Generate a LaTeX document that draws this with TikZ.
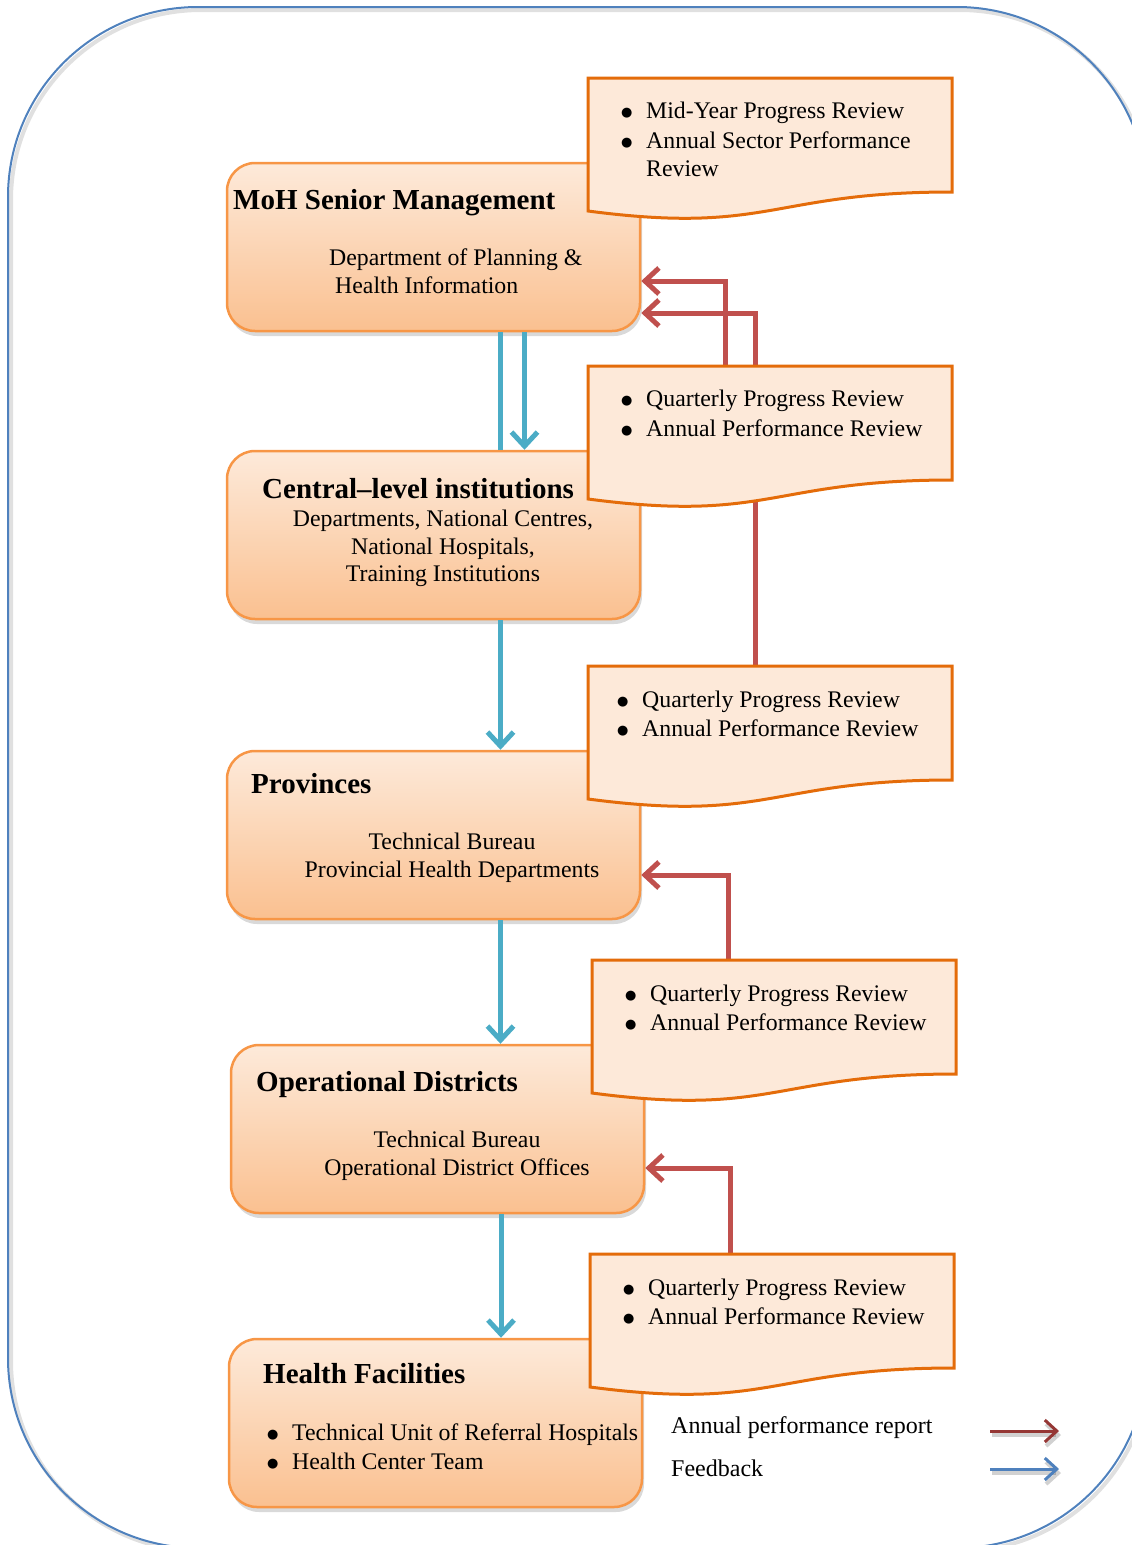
\documentclass[tikz,border=0pt]{standalone}
\usepackage{fontspec}
\setmainfont{Liberation Serif}
\newfontfamily\symfont{DejaVu Sans}
\usetikzlibrary{arrows.meta,shadows,calc}
\definecolor{boxtop}{HTML}{FDEADA}
\definecolor{boxbot}{HTML}{FAC090}
\definecolor{boxline}{HTML}{F79646}
\definecolor{docfill}{HTML}{FDE9D9}
\definecolor{docline}{HTML}{E46C0A}
\definecolor{fbblue}{HTML}{4BACC6}
\definecolor{repred}{HTML}{C0504D}
\definecolor{legred}{HTML}{953735}
\definecolor{legblue}{HTML}{4F81BD}
\definecolor{framecol}{HTML}{4F81BD}
\newcommand\bodyfont{\fontsize{23.8}{29}\selectfont}
\newcommand\titlefont{\fontsize{29}{34}\selectfont\bfseries}
\newcommand\bul{\llap{\raisebox{2pt}{\symfont\fontsize{13}{13}\selectfont ●}\hspace{13.8pt}}}
\newcommand\mydoc[3]{%
  \draw[docshape] (#1,#2) -- (#3,#2) -- (#3,#2+114)
    .. controls ({(#1+#3)/2},#2+114) and ({(#1+#3)/2},#2+157) .. (#1,#2+133) -- cycle;}
\begin{document}
\begin{tikzpicture}[x=1pt,y=-1pt,
  mainbox/.style={draw=boxline, line width=2.5pt, rounded corners=28pt,
    top color=boxtop, bottom color=boxbot, minimum width=413pt, minimum height=168pt,
    inner sep=0pt, drop shadow={shadow xshift=2pt, shadow yshift=-5pt, opacity=0.3}},
  docshape/.style={draw=docline, fill=docfill, line width=3pt, line join=miter},
  doctop/.style={inner sep=0pt, minimum width=364pt, minimum height=114pt, anchor=north west},
  txt/.style={anchor=base west, inner sep=0pt, font=\bodyfont},
  ctxt/.style={anchor=base, inner sep=0pt, font=\bodyfont},
  ttl/.style={anchor=base west, inner sep=0pt, font=\titlefont},
  fbline/.style={draw=fbblue, line width=5pt},
  downarrow/.style={fbline, -{Straight Barb[length=14pt,width=26pt]}},
  uparrow/.style={draw=repred, line width=5pt, line join=miter, -{Straight Barb[length=14pt,width=26pt]}},
  legarrow/.style={line width=3pt, -{Straight Barb[length=12pt,width=22pt]}},
  legshadow/.style={draw=black, opacity=0.18, line width=4pt, -{Straight Barb[length=12pt,width=22pt]}},
]
\useasboundingbox (0,0) rectangle (1132,1545);
\clip (0,0) rectangle (1132,1545);

% outer frame
\draw[black, opacity=0.12, line width=4pt, rounded corners=190pt] (11,10) rectangle (1150,1551);
\draw[framecol, line width=2pt, rounded corners=190pt] (8,7) rectangle (1147,1548);

% main boxes
\node[mainbox] (moh) at (433.5,247) {};
\node[mainbox] (cen) at (433.5,535) {};
\node[mainbox] (prov) at (433.5,835) {};
\node[mainbox] (od) at (437.5,1129) {};
\node[mainbox] (hf) at (435.5,1423) {};

% main box texts
\node[ttl] (mohT) at (233,209) {MoH Senior Management};
\node[txt] (mohA) at (329,265) {Department of Planning \&};
\node[txt] (mohB) at (335,293) {Health Information};

\node[ttl] (cenT) at (262,498) {Central–level institutions};
\node[ctxt] (cenA) at (443,526) {Departments, National Centres,};
\node[ctxt] (cenB) at (443,554) {National Hospitals,};
\node[ctxt] (cenC) at (443,581) {Training Institutions};

\node[ttl] (provT) at (251,793) {Provinces};
\node[ctxt] (provA) at (452,849) {Technical Bureau};
\node[ctxt] (provB) at (452,877) {Provincial Health Departments};

\node[ttl] (odT) at (256,1091) {Operational Districts};
\node[ctxt] (odA) at (457,1147) {Technical Bureau};
\node[ctxt] (odB) at (457,1175) {Operational District Offices};

\node[ttl] (hfT) at (263,1383) {Health Facilities};
\node[txt] (hfA) at (292,1440) {\bul Technical Unit of Referral Hospitals};
\node[txt] (hfB) at (292,1469) {\bul Health Center Team};

% document anchors (invisible)
\node[doctop] (d1) at (588,78) {};
\node[doctop] (d2) at (588,366) {};
\node[doctop] (d3) at (588,666) {};
\node[doctop] (d4) at (592,960) {};
\node[doctop] (d5) at (590,1254) {};

% feedback (down) connectors
\draw[fbline] ([xshift=67pt]moh.south) -- ([xshift=67pt]moh.south |- cen.north);
\draw[downarrow] ([xshift=91pt]moh.south) -- ([xshift=91pt]moh.south |- cen.north);
\draw[downarrow] ([xshift=67pt]cen.south) -- ([xshift=67pt]cen.south |- prov.north);
\draw[downarrow] ([xshift=67pt]prov.south) -- ([xshift=67pt]prov.south |- od.north);
\draw[downarrow] ([xshift=63.5pt]od.south) -- ([xshift=63.5pt]od.south |- hf.north);

% report (up) connectors
\draw[uparrow] ([xshift=137pt]d2.north west) |- ([yshift=-34pt]moh.east);
\draw[uparrow] ([xshift=167pt]d3.north west) |- ([yshift=-66pt]moh.east);
\draw[uparrow] ([xshift=136pt]d4.north west) |- ([yshift=-40pt]prov.east);
\draw[uparrow] ([xshift=140pt]d5.north west) |- ([yshift=-39pt]od.east);

% documents
\mydoc{588}{78}{952}
\mydoc{588}{366}{952}
\mydoc{588}{666}{952}
\mydoc{592}{960}{956}
\mydoc{590}{1254}{954}

\node[txt] (d1a) at (646,118) {\bul Mid-Year Progress Review};
\node[txt] (d1b) at (646,148) {\bul Annual Sector Performance};
\node[txt] (d1c) at (646,176) {Review};

\node[txt] (d2a) at (646,406) {\bul Quarterly Progress Review};
\node[txt] (d2b) at (646,436) {\bul Annual Performance Review};

\node[txt] (d3a) at (642,707) {\bul Quarterly Progress Review};
\node[txt] (d3b) at (642,736) {\bul Annual Performance Review};

\node[txt] (d4a) at (650,1001) {\bul Quarterly Progress Review};
\node[txt] (d4b) at (650,1030) {\bul Annual Performance Review};

\node[txt] (d5a) at (648,1295) {\bul Quarterly Progress Review};
\node[txt] (d5b) at (648,1324) {\bul Annual Performance Review};

% legend
\node[txt, font=\fontsize{24}{29}\selectfont] (legA) at (671,1433) {Annual performance report};
\node[txt, font=\fontsize{24}{29}\selectfont] (legB) at (671,1476) {Feedback};
\coordinate (lr1) at (990,1431);
\coordinate (lr2) at (1059,1431);
\coordinate (lb1) at (990,1469);
\coordinate (lb2) at (1059,1469);
\draw[legshadow] ([shift={(2pt,-4pt)}]lr1) -- ([shift={(2pt,-4pt)}]lr2);
\draw[legshadow] ([shift={(2pt,-4pt)}]lb1) -- ([shift={(2pt,-4pt)}]lb2);
\draw[legarrow, draw=legred] (lr1) -- (lr2);
\draw[legarrow, draw=legblue] (lb1) -- (lb2);
\end{tikzpicture}
\end{document}
